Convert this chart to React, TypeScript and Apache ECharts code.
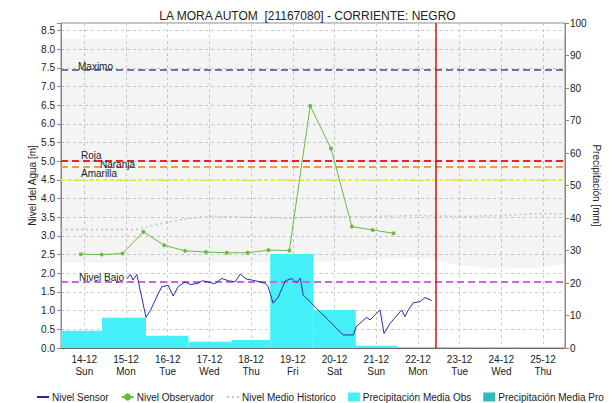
import React, { useEffect, useRef } from "react";
import * as echarts from "echarts";

const t = (s: string) => {
  const [md, hm] = s.split(" ");
  const [mo, d] = md.split("-").map(Number);
  const [h, mi] = hm.split(":").map(Number);
  return new Date(2014, mo - 1, d, h, mi).getTime();
};

const TITLE = "LA MORA AUTOM  [21167080] - CORRIENTE: NEGRO";
const X_MIN = "12-13 10:36";
const X_MAX = "12-25 12:39";
const NOW = "12-22 10:26";
const WEEKDAYS = ["Sun", "Mon", "Tue", "Wed", "Thu", "Fri", "Sat"];

const sensorTimes = ["12-15 00:30","12-15 02:30","12-15 04:00","12-15 06:15","12-15 07:10","12-15 09:00","12-15 11:30","12-15 14:00","12-15 16:50","12-15 18:30","12-15 20:40","12-16 00:15","12-16 03:10","12-16 06:00","12-16 10:00","12-16 13:00","12-16 17:30","12-16 20:00","12-16 23:15","12-17 03:00","12-17 07:10","12-17 11:00","12-17 14:50","12-17 17:45","12-17 21:00","12-18 02:25","12-18 08:10","12-18 09:50","12-18 12:40","12-18 15:35","12-18 19:40","12-18 23:30","12-19 02:00","12-19 04:20","12-19 06:00","12-20 05:00","12-20 10:50","12-20 12:30","12-20 18:30","12-20 20:25","12-21 02:10","12-21 04:30","12-21 08:00","12-21 14:40","12-21 16:30","12-21 18:30","12-21 21:20","12-22 01:10","12-22 04:05","12-22 08:00"];
const sensorValues = [1.85,1.97,1.82,1.97,1.77,1.37,0.82,1.0,1.28,1.45,1.64,1.68,1.39,1.64,1.77,1.70,1.73,1.80,1.77,1.72,1.86,1.80,1.77,1.98,1.85,1.80,1.73,1.64,1.20,1.36,1.80,1.86,1.75,1.87,1.42,0.35,0.35,0.57,0.82,0.75,1.02,0.39,0.66,1.02,0.84,1.02,1.21,1.24,1.35,1.27];

const obsTimes = ["12-13 22:00","12-14 10:00","12-14 22:00","12-15 10:00","12-15 22:00","12-16 10:00","12-16 22:00","12-17 10:00","12-17 22:00","12-18 10:00","12-18 22:00","12-19 10:00","12-19 22:00","12-20 10:00","12-20 22:00","12-21 10:00"];
const obsValues = [2.51,2.50,2.53,3.11,2.75,2.60,2.57,2.55,2.55,2.62,2.61,6.48,5.34,3.25,3.16,3.07];

const meanTimes = ["12-13 10:36","12-15 06:00","12-15 16:00","12-16 08:00","12-17 00:00","12-18 00:00","12-19 00:00","12-20 00:00","12-21 00:00","12-22 00:00","12-23 00:00","12-24 00:00","12-25 00:00","12-25 12:39"];
const meanValues = [3.17,3.17,3.29,3.44,3.53,3.50,3.48,3.52,3.52,3.55,3.52,3.55,3.60,3.58];

const bandTimes = ["12-13 10:36","12-15 00:00","12-17 00:00","12-19 00:00","12-20 00:00","12-21 00:00","12-22 00:00","12-22 12:00","12-23 00:00","12-24 00:00","12-25 00:00","12-25 12:39"];
const bandLow = [2.28,2.28,2.28,2.30,2.31,2.38,2.40,2.35,2.20,2.12,2.15,2.25];
const bandHigh = [8.28,8.28,8.28,8.28,8.28,8.28,8.28,8.28,8.28,8.28,8.28,8.28];

const precipStart = ["12-13 10:00","12-14 10:10","12-15 11:30","12-16 12:00","12-17 13:00","12-18 11:00","12-19 12:00","12-20 12:15"];
const precipEnd = ["12-14 10:10","12-15 11:30","12-16 12:00","12-17 13:00","12-18 11:00","12-19 12:00","12-20 12:15","12-21 12:00"];
const precipObs = [5.3, 9.3, 3.8, 1.9, 2.5, 28.9, 11.7, 0.7];
const precipPro: number[] = [];

const refNames = ["Maximo", "Roja", "Naranja", "Amarilla", "Nivel Bajo"];
const refValues = [7.45, 5.0, 4.85, 4.5, 1.77];

const FONT = "Liberation Sans, Arial, sans-serif";

export default function App() {
  const ref = useRef<HTMLDivElement>(null);
  useEffect(() => {
    if (!ref.current) return;
    const chart = echarts.init(ref.current, null, { renderer: "svg" });

    const refStyles = [
      { color: "#6a78a8", type: [7, 4], width: 2, pad: 19, dist: -2 },
      { color: "#ee2222", type: [7, 4], width: 2, pad: 19, dist: 1 },
      { color: "#e8a040", type: [7, 4], width: 2, pad: 42, dist: -3 },
      { color: "#eeee22", type: [4, 3], width: 2, pad: 19, dist: 1 },
      { color: "#cc66dd", type: [7, 4], width: 2, pad: 19, dist: -1 },
    ];

    const precipRender = (color: string) => (params: any, api: any) => {
      const s = api.coord([api.value(0), api.value(2)]);
      const e = api.coord([api.value(1), 0]);
      const rect = echarts.graphic.clipRectByRect(
        { x: s[0], y: s[1], width: e[0] - s[0], height: e[1] - s[1] },
        params.coordSys
      );
      if (!rect) return null;
      return { type: "rect", shape: rect, style: { fill: color } };
    };

    const option: any = {
      animation: false,
      title: {
        text: TITLE,
        left: "center",
        top: 5,
        textStyle: { fontSize: 12, fontWeight: "normal", color: "#222", fontFamily: FONT },
      },
      legend: {
        left: 31,
        top: 387,
        itemGap: 12,
        itemWidth: 12,
        itemHeight: 9,
        textStyle: { fontSize: 10, color: "#222", fontFamily: FONT, padding: [0, 0, 0, -2] },
        data: [
          { name: "Nivel Sensor", icon: "inherit", itemStyle: { opacity: 0 } },
          { name: "Nivel Observador", icon: "inherit" },
          { name: "Nivel Medio Historico", icon: "inherit", itemStyle: { opacity: 0 } },
          { name: "Precipitación Media Obs", icon: "rect" },
          { name: "Precipitación Media Pro", icon: "rect" },
        ],
      },
      grid: {
        left: 61,
        right: 50,
        top: 23,
        bottom: 55,
        show: true,
        borderColor: "#888",
        borderWidth: 1,
        backgroundColor: "transparent",
      },
      xAxis: {
        type: "time",
        min: t(X_MIN),
        max: t(X_MAX),
        minInterval: 86400000,
        maxInterval: 86400000,
        axisLine: { lineStyle: { color: "#555", type: "dotted" } },
        axisTick: { show: false },
        splitLine: { show: true, lineStyle: { color: "#cccccc", type: [3, 3] } },
        axisLabel: {
          color: "#222",
          fontSize: 10,
          fontFamily: FONT,
          lineHeight: 12,
          margin: 5,
          hideOverlap: false,
          formatter: (v: number) => {
            const d = new Date(v);
            if (d.getHours() !== 0 || d.getMinutes() !== 0) return "";
            const p = (n: number) => (n < 10 ? "0" + n : "" + n);
            return `${p(d.getDate())}-${p(d.getMonth() + 1)}\n${WEEKDAYS[d.getDay()]}`;
          },
        },
      },
      yAxis: [
        {
          type: "value",
          min: 0,
          max: 8.7,
          interval: 0.5,
          name: "Nivel del Agua [m]",
          nameLocation: "middle",
          nameGap: 24,
          nameMoveOverlap: false,
          nameTextStyle: { fontSize: 10, color: "#222", fontFamily: FONT },
          axisLine: { show: true, lineStyle: { color: "#888" } },
          axisTick: { show: true, length: 4, lineStyle: { color: "#888" } },
          splitLine: { show: true, lineStyle: { color: "#cccccc", type: [3, 3] } },
          axisLabel: {
            color: "#222",
            fontSize: 10,
            fontFamily: FONT,
            margin: 6,
            formatter: (v: number) => (Math.abs(v * 2 - Math.round(v * 2)) < 1e-6 ? v.toFixed(1) : ""),
          },
        },
        {
          type: "value",
          min: 0,
          max: 100,
          interval: 10,
          position: "right",
          name: "Precipitación [mm]",
          nameLocation: "middle",
          nameRotate: -90,
          nameGap: 26,
          nameMoveOverlap: false,
          nameTextStyle: { fontSize: 10, color: "#222", fontFamily: FONT },
          axisLine: { show: true, lineStyle: { color: "#888" } },
          axisTick: { show: true, length: 4, lineStyle: { color: "#888" } },
          splitLine: { show: false },
          axisLabel: { color: "#222", fontSize: 10, fontFamily: FONT, margin: 5 },
        },
      ],
      series: [
        {
          name: "bandBase",
          type: "line",
          stack: "band",
          data: bandTimes.map((s, i) => [t(s), bandLow[i]]),
          symbol: "none",
          lineStyle: { width: 0, opacity: 0 },
          silent: true,
          z: 1,
        },
        {
          name: "bandRange",
          type: "line",
          stack: "band",
          data: bandTimes.map((s, i) => [t(s), bandHigh[i] - bandLow[i]]),
          symbol: "none",
          lineStyle: { width: 0, opacity: 0 },
          areaStyle: { color: "rgba(0,0,0,0.06)" },
          silent: true,
          z: 1,
        },
        {
          name: "Precipitación Media Obs",
          type: "custom",
          yAxisIndex: 1,
          itemStyle: { color: "#44f0f8" },
          encode: { x: [0, 1], y: 2 },
          renderItem: precipRender("#44f0f8"),
          data: precipStart.map((s, i) => [t(s), t(precipEnd[i]), precipObs[i]]),
          z: 2,
        },
        {
          name: "Precipitación Media Pro",
          type: "custom",
          yAxisIndex: 1,
          itemStyle: { color: "#2cbcbc" },
          encode: { x: [0, 1], y: 2 },
          renderItem: precipRender("#2cbcbc"),
          data: precipPro.map((v, i) => [t(precipStart[i]), t(precipEnd[i]), v]),
          z: 2,
        },
        {
          name: "Nivel Medio Historico",
          type: "line",
          data: meanTimes.map((s, i) => [t(s), meanValues[i]]),
          symbol: "none",
          itemStyle: { color: "#c4c4c4" },
          lineStyle: { color: "#c4c4c4", width: 1.6, type: [2, 3] },
          z: 3,
        },
        {
          name: "Nivel Sensor",
          type: "line",
          data: sensorTimes.map((s, i) => [t(s), sensorValues[i]]),
          symbol: "none",
          itemStyle: { color: "#2a2aa8" },
          lineStyle: { color: "#2a2aa8", width: 1 },
          z: 5,
          markLine: {
            symbol: "none",
            silent: true,
            animation: false,
            data: [
              ...refNames.map((n, i) => ({
                yAxis: refValues[i],
                lineStyle: { color: refStyles[i].color, type: refStyles[i].type, width: refStyles[i].width },
                label: {
                  show: true,
                  formatter: n,
                  position: "insideStartTop",
                  distance: refStyles[i].dist,
                  padding: [0, 0, 0, refStyles[i].pad],
                  color: "#222",
                  fontSize: 10,
                  fontFamily: FONT,
                },
              })),
              {
                xAxis: t(NOW),
                lineStyle: { color: "#d01515", type: "solid", width: 1.5 },
                label: { show: false },
              },
            ],
          },
        },
        {
          name: "Nivel Observador",
          type: "line",
          data: obsTimes.map((s, i) => [t(s), obsValues[i]]),
          symbol: "circle",
          symbolSize: 4,
          itemStyle: { color: "#66bb44" },
          lineStyle: { color: "#66bb44", width: 1 },
          z: 6,
        },
      ],
    };
    chart.setOption(option);
    return () => chart.dispose();
  }, []);
  return (
    <div
      ref={ref}
      style={{ position: "fixed", left: 0, top: 0, width: 615, height: 403, background: "#fff" }}
    />
  );
}
